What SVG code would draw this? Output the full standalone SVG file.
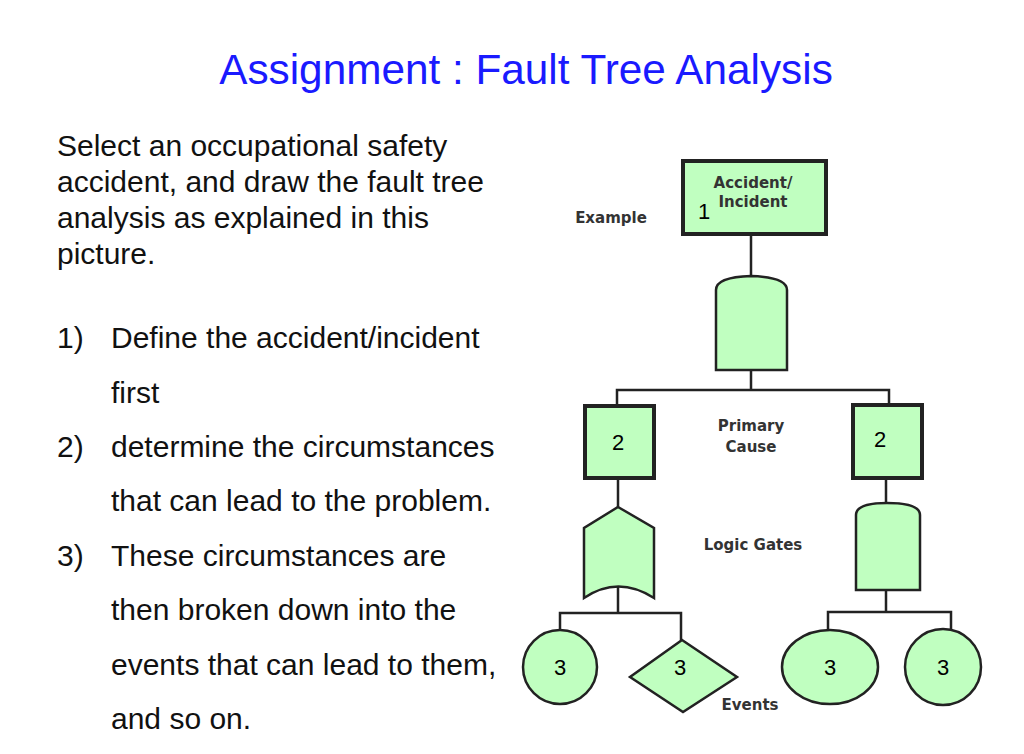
<svg xmlns="http://www.w3.org/2000/svg" width="1024" height="754" viewBox="0 0 1024 754">
<style>
.t{font-family:"Liberation Sans",Arial,sans-serif;font-size:30px;fill:#111}
.sh{fill:#c0ffc0;stroke:#222;stroke-width:2.5}
.bx{fill:#c0ffc0;stroke:#222;stroke-width:4}
.lb{font-family:"DejaVu Sans",sans-serif;font-weight:bold;font-size:15px;fill:#333;text-anchor:middle}
.n{font-family:"Liberation Sans",sans-serif;font-size:22px;fill:#000;text-anchor:middle}
.c{fill:none;stroke:#222;stroke-width:2.5}
</style>
<rect width="1024" height="754" fill="#fff"/>
<text x="526" y="84" text-anchor="middle" font-family="Liberation Sans,Arial,sans-serif" font-size="42.3" fill="#1a1aff">Assignment : Fault Tree Analysis</text>
<g class="t">
<text x="57" y="156">Select an occupational safety</text>
<text x="57" y="192">accident, and draw the fault tree</text>
<text x="57" y="228">analysis as explained in this</text>
<text x="57" y="264">picture.</text>
<text x="57" y="348">1)</text><text x="111" y="348">Define the accident/incident</text>
<text x="111" y="403">first</text>
<text x="57" y="457">2)</text><text x="111" y="457">determine the circumstances</text>
<text x="111" y="511">that can lead to the problem.</text>
<text x="57" y="566">3)</text><text x="111" y="566">These circumstances are</text>
<text x="111" y="620">then broken down into the</text>
<text x="111" y="675">events that can lead to them,</text>
<text x="111" y="729">and so on.</text>
</g>
<g id="connectors" class="c">
<path d="M751 235V277M751 370V390M617 404V390H889V404M618 479V507M618 587V613M560 633V613H681V640M886 479V503M886 590V612M828 634V612H951V632"/>
</g>
<g id="n1"><rect class="bx" x="683" y="161" width="143" height="73"/>
<text class="lb" x="753" y="188" font-size="14">Accident/</text><text class="lb" x="753" y="207" font-size="14">Incident</text>
<text class="n" x="704" y="219">1</text></g>
<g id="gate1"><path class="sh" d="M716 370V290Q716 277 751 276Q787 277 787 290V370Z"/></g>
<g id="n2a"><rect class="bx" x="585" y="406" width="69" height="72"/><text class="n" x="618" y="450">2</text></g>
<g id="n2b"><rect class="bx" x="853" y="405" width="69" height="73"/><text class="n" x="880" y="447">2</text></g>
<g id="gate2"><path class="sh" d="M618 507L654 528V598Q618 575 584 598V528Z"/></g>
<g id="gate3"><path class="sh" d="M856 590V515Q856 503 887 503Q920 503 920 515V590Z"/></g>
<g id="e1"><circle class="sh" cx="560" cy="667" r="37"/><text class="n" x="560" y="675">3</text></g>
<g id="e2"><path class="sh" d="M682 640L737 677L683 712L630 677Z"/><text class="n" x="680" y="675">3</text></g>
<g id="e3"><ellipse class="sh" cx="830" cy="667" rx="48" ry="37"/><text class="n" x="830" y="675">3</text></g>
<g id="e4"><circle class="sh" cx="943" cy="667" r="38"/><text class="n" x="943" y="675">3</text></g>
<text class="lb" x="611" y="223">Example</text>
<text class="lb" x="751" y="431">Primary</text><text class="lb" x="751" y="452">Cause</text>
<text class="lb" x="753" y="550">Logic Gates</text>
<text class="lb" x="750" y="710">Events</text>
</svg>
